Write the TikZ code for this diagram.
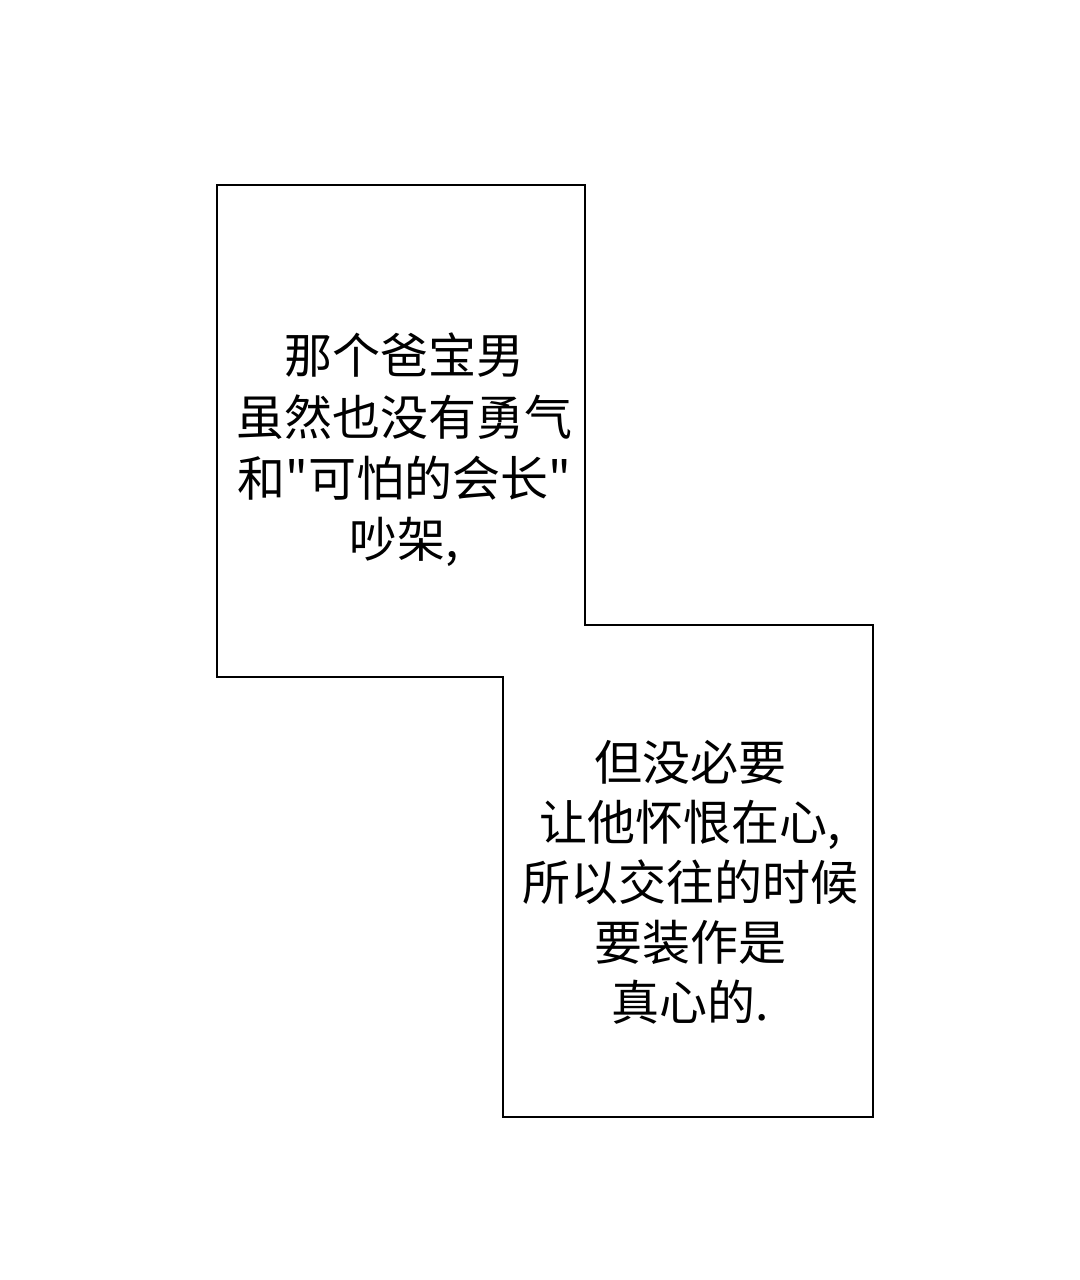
\documentclass[tikz,border=0pt]{standalone}
\usepackage{fontspec}
\newfontfamily\cjk{Noto Sans CJK SC}
\tikzset{speech/.style={align=center,font=\cjk\fontsize{36}{46}\selectfont,inner sep=0pt}}
\begin{document}
\begin{tikzpicture}[x=0.75pt,y=-0.75pt]
        \useasboundingbox (0,0) rectangle (1080,1280);
        %panel outline
        \draw[line width=2.2pt] (217,185) -- (585,185) -- (585,625) -- (873,625) -- (873,1117)
            -- (503,1117) -- (503,677) -- (217,677) -- cycle;
        \node[speech] (upper) at (404,450) {那个爸宝男\\虽然也没有勇气\\和"可怕的会长"\\吵架,};
        \node[speech,font=\cjk\fontsize{36}{45}\selectfont] (lower) at (690,882) {但没必要\\让他怀恨在心,\\所以交往的时候\\要装作是\\真心的.};
    \end{tikzpicture}
\end{document}
